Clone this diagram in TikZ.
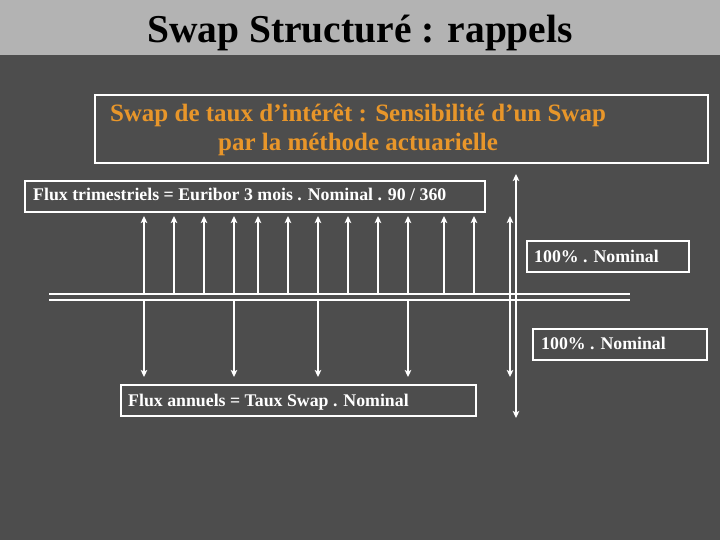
\documentclass[tikz,border=0pt]{standalone}
\usepackage{fontspec}
\setmainfont{Liberation Serif}
\usetikzlibrary{arrows.meta}
\definecolor{bg}{RGB}{77,77,77}
\definecolor{bar}{RGB}{179,179,179}
\definecolor{orng}{RGB}{232,150,42}
\tikzset{
  frame/.style={draw=white, line width=2pt},
  wtext/.style={text=white, font=\bfseries\fontsize{17.8}{20}\selectfont, inner sep=0pt, anchor=base west},
  tip/.style={Stealth[length=7pt,width=6.5pt,inset=1.5pt]},
  arr/.style={draw=white, line width=1.8pt, -{Stealth[length=7pt,width=6.5pt,inset=1.5pt]}},
  darr/.style={draw=white, line width=1.8pt, {Stealth[length=7pt,width=6.5pt,inset=1.5pt]}-{Stealth[length=7pt,width=6.5pt,inset=1.5pt]}},
  rail/.style={draw=white, line width=1.6pt},
}
\begin{document}
\begin{tikzpicture}[x=1pt,y=-1pt]
\useasboundingbox (0,0) rectangle (720,540);
\fill[bg] (0,0) rectangle (720,540);
\fill[bar] (0,0) rectangle (720,55);
\node[anchor=base, inner sep=0pt, font=\bfseries\fontsize{39.5}{44}\selectfont, text=black] (title) at (360,43) {Swap Structuré : rappels};

% big box
\draw[frame] (95,95) rectangle (708,163);
\node[anchor=base, inner sep=0pt, text=orng, font=\bfseries\fontsize{25}{29}\selectfont] (sub1) at (358,122) {Swap de taux d’intérêt : Sensibilité d’un Swap};
\node[anchor=base, inner sep=0pt, text=orng, font=\bfseries\fontsize{25}{29}\selectfont] (sub2) at (358,151) {par la méthode actuarielle};

% label boxes
\draw[frame] (25,181) rectangle (485,212);
\node[wtext] (ftrim) at (33,201) {Flux trimestriels = Euribor 3 mois . Nominal . 90 / 360};
\draw[frame] (527,241) rectangle (689,272);
\node[wtext] (nom1) at (534,262) {100\% . Nominal};
\draw[frame] (533,329) rectangle (707,360);
\node[wtext] (nom2) at (541,349) {100\% . Nominal};
\draw[frame] (121,385) rectangle (476,416);
\node[wtext] (fann) at (128,406) {Flux annuels = Taux Swap . Nominal};

% rails
\coordinate (r1a) at (49,294); \coordinate (r1b) at (630,294);
\coordinate (r2a) at (49,300); \coordinate (r2b) at (630,300);
\draw[rail] (r1a) -- (r1b);
\draw[rail] (r2a) -- (r2b);

% quarterly up arrows
\foreach \x [count=\i] in {144,174,204,234,258,288,318,348,378,408,444,474} {
  \coordinate (ub\i) at (\x,294);
  \coordinate (ut\i) at (\x,216);
  \draw[arr] (ub\i) -- (ut\i);
}
% annual down arrows
\foreach \x [count=\i] in {144,234,318,408} {
  \coordinate (db\i) at (\x,300);
  \coordinate (dt\i) at (\x,377);
  \draw[arr] (db\i) -- (dt\i);
}
% nominal double arrows
\coordinate (n1t) at (510,216); \coordinate (n1b) at (510,377);
\coordinate (n2t) at (516,174); \coordinate (n2b) at (516,418);
\draw[darr] (n1t) -- (n1b);
\draw[darr] (n2t) -- (n2b);
\end{tikzpicture}
\end{document}
